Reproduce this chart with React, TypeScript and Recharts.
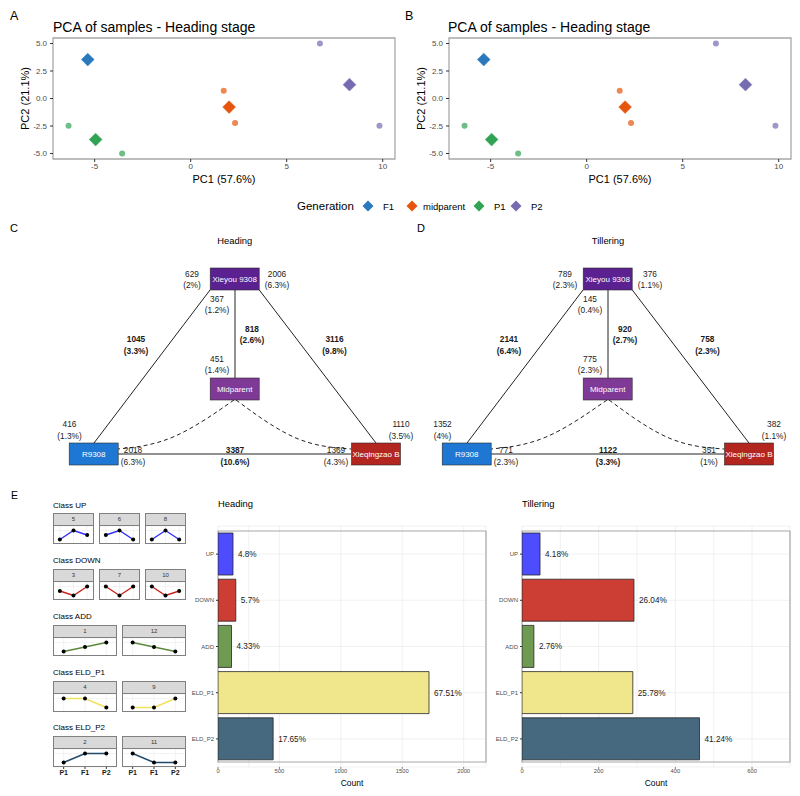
import React from "react"
import {
    Bar,
    BarChart,
    CartesianGrid,
    Cell,
    ComposedChart,
    LabelList,
    Line,
    LineChart,
    ReferenceArea,
    ReferenceLine,
    Scatter,
    ScatterChart,
    XAxis,
    YAxis,
} from "recharts"

const FONT = '"Liberation Sans", Arial, Helvetica, sans-serif'

// ---------- A / B : PCA ----------
const generations = ["F1", "midparent", "P1", "P2"]
const generationColors = ["#2A79BC", "#E6550D", "#31A354", "#756BB1"]
const sampleGeneration = ["midparent", "midparent", "P1", "P1", "P2", "P2"]
const samplePC1 = [1.72, 2.31, -6.36, -3.57, 6.73, 9.83]
const samplePC2 = [0.7, -2.22, -2.48, -5.0, 5.0, -2.47]
const centroidPC1 = [-5.36, 2.0, -4.95, 8.27]
const centroidPC2 = [3.54, -0.78, -3.73, 1.26]
const pcaXTicks = [-5, 0, 5, 10]
const pcaYTicks = [-5, -2.5, 0, 2.5, 5]
const pcaXDomain: [number, number] = [-7.17, 10.64]
const pcaYDomain: [number, number] = [-5.5, 5.5]

// ---------- C / D : network ----------
const nodeNames = ["Xieyou 9308", "Midparent", "R9308", "Xieqingzao B"]
const nodeFills = ["#5B2191", "#7E3A96", "#1E78D3", "#B3261F"]
const labelRoles = [
    "f1Left", "f1Right", "f1Below", "f1MidEdge", "midAbove", "p1Edge",
    "p2Edge", "p1Above", "p2Above", "p1Below", "p1p2Edge", "p2Below",
]
const boldRoles = ["f1MidEdge", "p1Edge", "p2Edge", "p1p2Edge"]
const headingCounts = [629, 2006, 367, 818, 451, 1045, 3116, 416, 1110, 2018, 3387, 1369]
const headingPcts = ["2%", "6.3%", "1.2%", "2.6%", "1.4%", "3.3%", "9.8%", "1.3%", "3.5%", "6.3%", "10.6%", "4.3%"]
const tilleringCounts = [789, 376, 145, 920, 775, 2141, 758, 1352, 382, 771, 1122, 351]
const tilleringPcts = ["2.3%", "1.1%", "0.4%", "2.7%", "2.3%", "6.4%", "2.3%", "4%", "1.1%", "2.3%", "3.3%", "1%"]

// diagram layout (panel coordinates)
const nodeCenters = [[234.7, 279], [234.7, 389], [93.7, 454], [376, 454]]
const labelAnchors = [
    [192, 276.7], [277, 276.7], [217, 301.7], [252, 331.7], [217, 361.7], [136, 342.3],
    [334.5, 342.3], [69.5, 427.3], [401, 427.3], [133, 453.3], [235, 453.3], [336, 453.3],
]
const edges = [
    [[210, 290], [94, 443]],
    [[259.3, 290], [376, 443]],
    [[235, 290], [235, 378]],
    [[118.3, 454], [351, 454]],
]
const curves = [
    [[234, 400], [171.4, 443.3], [118.3, 449]],
    [[236, 400], [297.3, 444.8], [351, 449]],
]

// ---------- E : classes ----------
const classNames = ["UP", "DOWN", "ADD", "ELD_P1", "ELD_P2"]
const classLineColors = ["#2E2EFF", "#CC1F1A", "#5B8A3A", "#F0E15E", "#21496A"]
const barFills = ["#4D4DFF", "#CC3D33", "#6F9A52", "#F0E68C", "#46697F"]
const stages = ["P1", "F1", "P2"]
const facetIds = [[5, 6, 8], [3, 7, 10], [1, 12], [4, 9], [2, 11]]
// level at P1, F1, P2 (1 low, 2 mid, 3 high)
const facetLevels = [
    [[1, 3, 2], [2, 3, 1], [1, 3, 1]],
    [[2, 1, 3], [3, 1, 3], [3, 1, 2]],
    [[1, 2, 3], [3, 2, 1]],
    [[3, 3, 1], [1, 1, 3]],
    [[1, 3, 3], [3, 1, 1]],
]
const headingClassCounts = [122, 145, 110, 1718, 449]
const headingClassPcts = ["4.8%", "5.7%", "4.33%", "67.51%", "17.65%"]
const tilleringClassCounts = [47, 292, 31, 289, 463]
const tilleringClassPcts = ["4.18%", "26.04%", "2.76%", "25.78%", "41.24%"]
const headingTicks = [0, 250, 500, 750, 1000, 1250, 1500, 1750, 2000]
const tilleringTicks = [0, 100, 200, 300, 400, 500, 600]

const sampleData = samplePC1.map((x, i) => ({ pc1: x, pc2: samplePC2[i], gen: sampleGeneration[i] }))
const centroidData = generations.map((g, i) => ({ pc1: centroidPC1[i], pc2: centroidPC2[i], gen: g }))
const colorOf = (g: string) => generationColors[generations.indexOf(g)]

const SampleDot = (props: any) => {
    const { cx, cy, fill } = props
    return <circle cx={cx} cy={cy} r={3} fill={fill} fillOpacity={0.7} />
}

const Diamond = (props: any) => {
    const { cx, cy, fill } = props
    const r = 6.4
    return (
        <polygon
            points={`${cx},${cy - r} ${cx + r},${cy} ${cx},${cy + r} ${cx - r},${cy}`}
            fill={fill}
            stroke={fill}
            strokeWidth={0.8}
            strokeOpacity={0.6}
        />
    )
}

function PcaPanel({ left }: { left: number }) {
    return (
        <div style={{ position: "absolute", left, top: 0 }}>
            <ScatterChart width={400} height={190} margin={{ top: 38, right: 5, bottom: 1, left: 0 }}>
                <XAxis
                    type="number"
                    dataKey="pc1"
                    domain={pcaXDomain}
                    ticks={pcaXTicks}
                    allowDataOverflow
                    height={30}
                    axisLine={false}
                    tickLine={{ stroke: "#333" }}
                    tickSize={3}
                    tickMargin={1}
                    tick={{ fontSize: 8, fill: "#4D4D4D" }}
                    label={{ value: "PC1 (57.6%)", position: "insideBottom", offset: 6, fontSize: 11, fill: "#000" }}
                />
                <YAxis
                    type="number"
                    dataKey="pc2"
                    domain={pcaYDomain}
                    ticks={pcaYTicks}
                    allowDataOverflow
                    width={53}
                    axisLine={false}
                    tickLine={{ stroke: "#333" }}
                    tickSize={3}
                    tickMargin={3}
                    tick={{ fontSize: 8, fill: "#4D4D4D" }}
                    tickFormatter={(v: number) => v.toFixed(1)}
                    label={{
                        value: "PC2 (21.1%)",
                        angle: -90,
                        position: "insideLeft",
                        offset: 25,
                        fontSize: 11,
                        fill: "#000",
                        style: { textAnchor: "middle" },
                    }}
                />
                <ReferenceArea
                    x1={pcaXDomain[0]}
                    x2={pcaXDomain[1]}
                    y1={pcaYDomain[0]}
                    y2={pcaYDomain[1]}
                    fill="none"
                    stroke="#A8A8A8"
                    strokeWidth={1.3}
                />
                <Scatter data={sampleData} shape={SampleDot} isAnimationActive={false}>
                    {sampleData.map((d, i) => (
                        <Cell key={i} fill={colorOf(d.gen)} />
                    ))}
                </Scatter>
                <Scatter data={centroidData} shape={Diamond} isAnimationActive={false}>
                    {centroidData.map((d, i) => (
                        <Cell key={i} fill={colorOf(d.gen)} />
                    ))}
                </Scatter>
            </ScatterChart>
        </div>
    )
}

const NodeBox = (props: any) => {
    const { cx, cy } = props
    const p = props.payload || props
    return (
        <g>
            <rect x={cx - 24.5} y={cy - 11} width={49} height={22} fill={p.fill} stroke="#2a2a2a" strokeWidth={0.6} />
            <text x={cx} y={cy} dy="0.35em" textAnchor="middle" fontSize={8} fill="#fff">
                {p.name}
            </text>
        </g>
    )
}

const CountLabel = (props: any) => {
    const { cx, cy } = props
    const p = props.payload || props
    return (
        <text x={cx} y={cy} textAnchor="middle" fontSize={8.3} fontWeight={p.bold ? "bold" : "normal"} fill="#1a1a1a">
            <tspan x={cx}>{p.count}</tspan>
            <tspan x={cx} dy={11.4}>({p.pct})</tspan>
        </text>
    )
}

function NetworkPanel({ left, counts, pcts }: { left: number; counts: number[]; pcts: string[] }) {
    const nodes = nodeNames.map((name, i) => ({ x: nodeCenters[i][0], y: nodeCenters[i][1], name, fill: nodeFills[i] }))
    const labels = labelRoles.map((role, i) => ({
        x: labelAnchors[i][0],
        y: labelAnchors[i][1],
        count: counts[i],
        pct: pcts[i],
        bold: boldRoles.includes(role),
    }))
    return (
        <div style={{ position: "absolute", left, top: 250 }}>
            <ComposedChart width={427} height={230} margin={{ top: 0, right: 0, bottom: 0, left: 0 }}>
                <XAxis type="number" dataKey="x" domain={[0, 427]} hide allowDataOverflow />
                <YAxis type="number" dataKey="y" domain={[250, 480]} reversed hide allowDataOverflow />
                {edges.map((e, i) => (
                    <ReferenceLine
                        key={i}
                        segment={[{ x: e[0][0], y: e[0][1] }, { x: e[1][0], y: e[1][1] }]}
                        stroke="#222"
                        strokeWidth={1}
                    />
                ))}
                {curves.map((c, i) => (
                    <Line
                        key={i}
                        data={c.map((pt) => ({ x: pt[0], y: pt[1] }))}
                        dataKey="y"
                        type="basis"
                        stroke="#222"
                        strokeWidth={1}
                        strokeDasharray="4 3"
                        dot={false}
                        activeDot={false}
                        isAnimationActive={false}
                    />
                ))}
                <Scatter data={nodes} shape={NodeBox} isAnimationActive={false} />
                <Scatter data={labels} shape={CountLabel} isAnimationActive={false} />
            </ComposedChart>
        </div>
    )
}

function Facet({ id, levels, color, left, top, width, showX }: any) {
    const data = stages.map((s, i) => ({ stage: s, level: levels[i] }))
    const chartH = showX ? 30 : 18
    const pad = width / 6
    return (
        <div style={{ position: "absolute", left, top, width }}>
            <div
                style={{
                    height: 13,
                    boxSizing: "border-box",
                    background: "#D9D9D9",
                    border: "0.8px solid #808080",
                    fontSize: 6,
                    lineHeight: "11px",
                    textAlign: "center",
                    color: "#333",
                }}
            >
                {id}
            </div>
            <div style={{ position: "relative", height: chartH }}>
                <LineChart width={width} height={chartH} data={data} margin={{ top: 0, right: 0, bottom: 0, left: 0 }}>
                    <CartesianGrid stroke="#EBEBEB" strokeWidth={0.6} />
                    <XAxis
                        dataKey="stage"
                        hide={!showX}
                        height={12}
                        padding={{ left: pad, right: pad }}
                        axisLine={false}
                        tickLine={{ stroke: "#333" }}
                        tickSize={2}
                        tickMargin={1}
                        interval={0}
                        tick={{ fontSize: 7, fill: "#1a1a1a", fontWeight: "bold" }}
                    />
                    <YAxis hide domain={[0, 4]} ticks={[1, 2, 3]} />
                    <Line
                        dataKey="level"
                        stroke={color}
                        strokeWidth={1.4}
                        dot={{ r: 2, fill: "#000", stroke: "#000", strokeWidth: 0 }}
                        activeDot={false}
                        isAnimationActive={false}
                    />
                </LineChart>
                <div
                    style={{
                        position: "absolute",
                        left: 0,
                        top: 0,
                        width,
                        height: 18,
                        boxSizing: "border-box",
                        border: "0.8px solid #808080",
                        borderTop: "none",
                    }}
                />
            </div>
        </div>
    )
}

const stripTops = [513, 569, 625, 681, 736]
const classTitleBaselines = [507.7, 563.3, 618.7, 675, 730]

function CountTick(props: any) {
    const { x, y, payload, step } = props
    if (payload.value % step !== 0) return <g />
    return (
        <g>
            <line x1={x} x2={x} y1={y - 2} y2={y} stroke="#333" strokeWidth={0.6} />
            <text x={x} y={y} dy="0.71em" textAnchor="middle" fontSize={5.8} fill="#4D4D4D">
                {payload.value}
            </text>
        </g>
    )
}

function ClassBars({ left, counts, pcts, domainMax, ticks, step }: any) {
    const data = classNames.map((c, i) => ({ cls: c, count: counts[i], pct: pcts[i] }))
    return (
        <div style={{ position: "absolute", left, top: 520 }}>
            <BarChart layout="vertical" width={320} height={276} data={data} margin={{ top: 6, right: 4, bottom: 2, left: 0 }}>
                <CartesianGrid stroke="#EBEBEB" strokeWidth={0.7} />
                <XAxis
                    type="number"
                    domain={[0, domainMax]}
                    ticks={ticks}
                    allowDataOverflow
                    height={27}
                    axisLine={false}
                    tickLine={false}
                    tickSize={2}
                    tickMargin={0}
                    tick={(p: any) => <CountTick {...p} step={step} />}
                    label={{ value: "Count", position: "insideBottom", offset: 8, fontSize: 8.5, fill: "#000" }}
                />
                <YAxis
                    type="category"
                    dataKey="cls"
                    width={48}
                    axisLine={false}
                    tickLine={{ stroke: "#333" }}
                    tickSize={2}
                    tickMargin={2}
                    padding={{ top: 5, bottom: 5 }}
                    tick={{ fontSize: 6, fill: "#4D4D4D" }}
                />
                <Bar dataKey="count" barSize={42} stroke="#262626" strokeWidth={0.8} isAnimationActive={false}>
                    {data.map((d, i) => (
                        <Cell key={i} fill={barFills[i]} />
                    ))}
                    <LabelList dataKey="pct" position="right" offset={5} fontSize={8.2} fill="#1a1a1a" />
                </Bar>
                <ReferenceArea x1={0} x2={domainMax} fill="none" stroke="#A8A8A8" strokeWidth={1.2} />
            </BarChart>
        </div>
    )
}

export default function App() {
    return (
        <div
            style={{
                position: "absolute",
                left: 0,
                top: 0,
                width: 800,
                height: 796,
                background: "#fff",
                overflow: "hidden",
                fontFamily: FONT,
            }}
        >
            <PcaPanel left={0} />
            <PcaPanel left={396} />
            <NetworkPanel left={0} counts={headingCounts} pcts={headingPcts} />
            <NetworkPanel left={373} counts={tilleringCounts} pcts={tilleringPcts} />

            {facetIds.map((row, r) =>
                row.map((id, c) => {
                    const wide = row.length === 2
                    const width = wide ? 64 : 41
                    const left = wide ? [53, 122][c] : [53, 99, 145][c]
                    return (
                        <Facet
                            key={`${r}-${c}`}
                            id={id}
                            levels={facetLevels[r][c]}
                            color={classLineColors[r]}
                            left={left}
                            top={stripTops[r]}
                            width={width}
                            showX={r === facetIds.length - 1}
                        />
                    )
                })
            )}

            <ClassBars left={170} counts={headingClassCounts} pcts={headingClassPcts} domainMax={2182} ticks={headingTicks} step={500} />
            <ClassBars left={474} counts={tilleringClassCounts} pcts={tilleringClassPcts} domainMax={699} ticks={tilleringTicks} step={200} />

            <svg width={800} height={796} style={{ position: "absolute", left: 0, top: 0, pointerEvents: "none" }}>
                <g fontFamily={FONT} fill="#000">
                    <text x={10} y={19.5} fontSize={12.5}>A</text>
                    <text x={405} y={19.5} fontSize={12.5}>B</text>
                    <text x={53} y={32} fontSize={14}>PCA of samples - Heading stage</text>
                    <text x={448} y={32} fontSize={14}>PCA of samples - Heading stage</text>

                    <text x={297} y={210} fontSize={11.5}>Generation</text>
                    {generations.map((g, i) => {
                        const cx = [368, 412, 479, 516][i]
                        const tx = [383, 423, 494, 531][i]
                        const r = 5.5
                        return (
                            <g key={g}>
                                <polygon
                                    points={`${cx},${206 - r} ${cx + r},206 ${cx},${206 + r} ${cx - r},206`}
                                    fill={generationColors[i]}
                                />
                                <text x={tx} y={209.5} fontSize={9.5}>{g}</text>
                            </g>
                        )
                    })}

                    <text x={10} y={231.7} fontSize={11}>C</text>
                    <text x={417} y={231.7} fontSize={11}>D</text>
                    <text x={234.7} y={244} fontSize={9.4} textAnchor="middle">Heading</text>
                    <text x={608} y={244} fontSize={9.4} textAnchor="middle">Tillering</text>

                    <text x={11} y={499} fontSize={10.5}>E</text>
                    {classNames.map((c, i) => (
                        <text key={c} x={53} y={classTitleBaselines[i]} fontSize={8}>
                            Class {c}
                        </text>
                    ))}
                    <text x={218} y={507} fontSize={9.4}>Heading</text>
                    <text x={522} y={507} fontSize={9.4}>Tillering</text>
                </g>
            </svg>
        </div>
    )
}
